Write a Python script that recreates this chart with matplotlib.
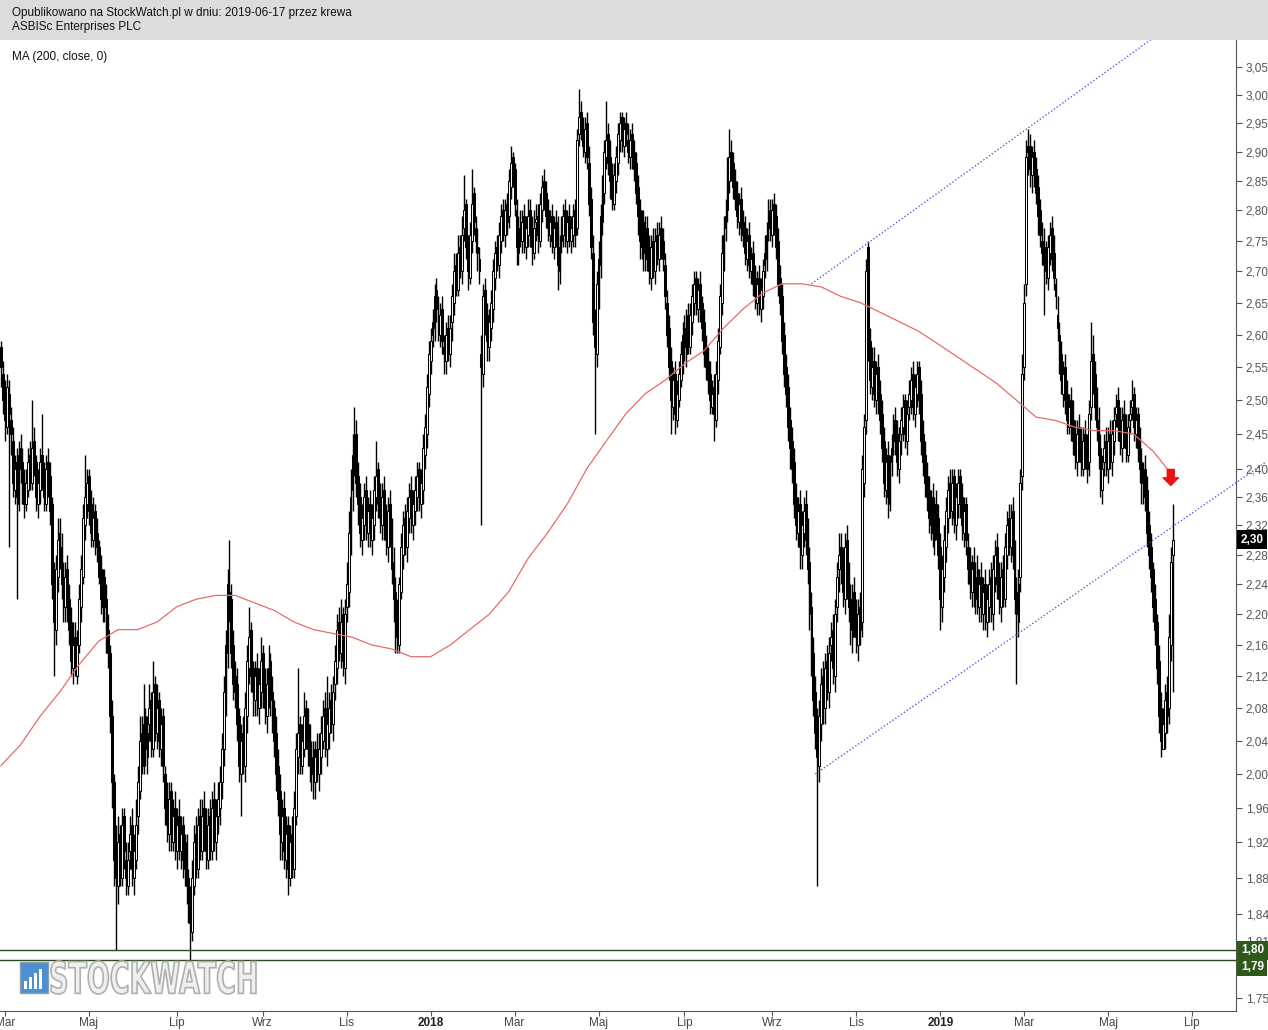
import matplotlib
matplotlib.use('Agg')
import matplotlib.pyplot as plt
from matplotlib.patches import Rectangle, PathPatch
from matplotlib.textpath import TextPath
from matplotlib.font_manager import FontProperties
from matplotlib.transforms import Affine2D, IdentityTransform
from matplotlib.ticker import NullLocator
import numpy as np
import pandas as pd

plt.rcParams['font.family'] = ['Liberation Sans', 'DejaVu Sans']

# daily sessions starting on this date (business days, no gaps)
start_date = '2017-02-27'

# prices in grosze (1/100 PLN), one row = 10 sessions
opens_gr = [
    258, 254, 251, 246, 251, 247, 244, 237, 241, 235,
    243, 241, 238, 235, 237, 242, 238, 244, 241, 235,
    237, 242, 240, 235, 241, 239, 235, 225, 218, 225,
    231, 229, 225, 221, 226, 222, 219, 213, 217, 212,
    216, 221, 225, 232, 235, 239, 235, 230, 234, 231,
    229, 226, 221, 225, 222, 218, 215, 207, 199, 190,
    187, 193, 188, 195, 190, 187, 191, 194, 188, 190,
    195, 198, 205, 201, 207, 202, 206, 209, 203, 211,
    205, 209, 203, 207, 200, 197, 193, 198, 192, 196,
    191, 195, 191, 194, 189, 192, 188, 186, 182, 187,
    193, 189, 195, 191, 196, 194, 190, 195, 191, 197,
    192, 195, 196, 199, 203, 209, 215, 223, 222, 216,
    212, 211, 207, 200, 205, 201, 207, 213, 218, 213,
    209, 213, 208, 210, 215, 211, 207, 210, 214, 210,
    208, 205, 201, 198, 192, 196, 190, 194, 188, 193,
    189, 195, 202, 206, 201, 203, 208, 206, 204, 200,
    203, 199, 203, 200, 202, 204, 208, 203, 205, 209,
    206, 211, 213, 219, 215, 220, 213, 221, 223, 230,
    237, 241, 245, 239, 236, 230, 232, 237, 231, 235,
    230, 232, 236, 240, 236, 232, 237, 233, 229, 235,
    232, 227, 223, 220, 216, 223, 228, 233, 229, 233,
    237, 232, 234, 236, 240, 235, 237, 242, 245, 251,
    256, 260, 261, 267, 263, 260, 264, 258, 256, 261,
    257, 262, 265, 271, 267, 274, 270, 277, 281, 274,
    269, 275, 283, 277, 274, 272, 257, 254, 267, 263,
    258, 261, 264, 269, 274, 271, 275, 280, 276, 281,
    279, 284, 289, 287, 280, 273, 278, 275, 279, 274,
    276, 280, 277, 273, 278, 279, 275, 280, 285, 283,
    280, 276, 279, 274, 278, 277, 270, 275, 276, 280,
    275, 279, 275, 276, 280, 277, 293, 297, 294, 290,
    295, 288, 282, 273, 263, 257, 267, 271, 278, 283,
    289, 293, 289, 286, 281, 285, 288, 292, 296, 291,
    295, 292, 289, 293, 290, 288, 284, 280, 274, 278,
    272, 277, 273, 269, 275, 270, 276, 272, 277, 275,
    271, 265, 261, 256, 249, 254, 247, 250, 253, 256,
    261, 257, 263, 258, 262, 265, 269, 264, 268, 265,
    262, 258, 256, 254, 249, 252, 247, 253, 258, 265,
    272, 277, 280, 285, 290, 288, 285, 283, 278, 282,
    278, 277, 272, 276, 270, 273, 269, 265, 269, 264,
    266, 271, 272, 277, 280, 276, 281, 279, 275, 269,
    266, 260, 255, 252, 247, 244, 241, 236, 231, 235,
    228, 231, 235, 231, 227, 221, 215, 210, 206, 201,
    206, 212, 208, 214, 210, 216, 218, 212, 221, 226,
    229, 227, 222, 230, 225, 222, 217, 223, 220, 216,
    221, 219, 238, 247, 274, 259, 252, 256, 250, 255,
    251, 248, 244, 237, 242, 235, 241, 244, 247, 245,
    240, 245, 246, 250, 244, 249, 250, 254, 248, 251,
    255, 251, 245, 242, 239, 237, 232, 236, 230, 235,
    233, 229, 221, 225, 229, 233, 238, 234, 239, 232,
    235, 239, 236, 231, 235, 229, 227, 223, 227, 222,
    226, 221, 225, 220, 224, 219, 221, 225, 220, 225,
    229, 225, 221, 226, 222, 228, 233, 229, 234, 228,
    223, 219, 225, 239, 255, 268, 291, 291, 286, 290,
    287, 284, 280, 275, 274, 272, 269, 273, 277, 273,
    268, 263, 260, 257, 251, 255, 251, 246, 250, 247,
    245, 241, 246, 244, 240, 245, 243, 241, 249, 257,
    254, 250, 247, 243, 237, 241, 244, 240, 245, 241,
    244, 248, 250, 247, 243, 248, 246, 242, 247, 249,
    251, 245, 248, 244, 241, 237, 240, 237, 232, 229,
    226, 222, 219, 214, 208, 203, 205, 210, 208, 216,
    228,
]
highs_gr = [
    259, 256, 253, 254, 253, 249, 246, 242, 243, 244,
    245, 243, 240, 240, 243, 244, 250, 246, 242, 240,
    243, 248, 241, 242, 243, 241, 236, 227, 228, 233,
    233, 231, 227, 227, 228, 224, 221, 219, 219, 218,
    224, 228, 235, 242, 240, 240, 237, 236, 235, 233,
    230, 228, 226, 226, 224, 220, 216, 209, 200, 194,
    195, 194, 196, 196, 192, 192, 195, 196, 193, 197,
    201, 207, 207, 211, 208, 207, 211, 210, 214, 212,
    211, 210, 208, 208, 201, 199, 199, 199, 197, 198,
    196, 197, 195, 195, 193, 193, 189, 187, 190, 194,
    195, 196, 197, 197, 198, 196, 196, 197, 198, 199,
    197, 199, 201, 205, 212, 218, 226, 230, 224, 218,
    214, 213, 208, 206, 207, 210, 216, 221, 219, 214,
    214, 215, 213, 217, 216, 213, 213, 216, 215, 212,
    209, 207, 203, 200, 197, 198, 195, 195, 194, 195,
    198, 205, 213, 207, 206, 210, 209, 208, 206, 204,
    204, 204, 205, 205, 207, 209, 210, 212, 210, 211,
    212, 216, 220, 221, 222, 221, 222, 227, 234, 240,
    245, 249, 247, 241, 238, 235, 238, 239, 236, 237,
    235, 239, 244, 241, 238, 238, 239, 235, 236, 237,
    233, 229, 225, 222, 225, 231, 234, 235, 236, 238,
    239, 237, 239, 241, 241, 240, 245, 248, 254, 259,
    261, 264, 268, 269, 266, 265, 266, 260, 262, 263,
    263, 268, 273, 273, 276, 276, 279, 286, 282, 276,
    278, 287, 284, 279, 277, 274, 260, 268, 269, 265,
    264, 267, 272, 275, 276, 278, 281, 282, 282, 283,
    287, 291, 290, 288, 282, 279, 280, 280, 281, 279,
    282, 282, 279, 280, 281, 281, 283, 286, 287, 285,
    282, 280, 281, 279, 280, 279, 276, 279, 281, 282,
    280, 281, 279, 281, 282, 294, 301, 299, 296, 296,
    297, 291, 284, 276, 264, 270, 275, 281, 286, 292,
    299, 295, 292, 288, 288, 291, 295, 297, 297, 296,
    297, 295, 294, 295, 292, 290, 286, 282, 280, 280,
    279, 279, 276, 276, 277, 277, 278, 278, 279, 277,
    273, 267, 263, 258, 255, 256, 253, 256, 259, 262,
    263, 264, 265, 265, 268, 270, 270, 269, 270, 266,
    264, 260, 258, 256, 253, 254, 256, 261, 268, 276,
    279, 282, 289, 294, 292, 290, 287, 285, 283, 284,
    280, 279, 277, 278, 274, 275, 271, 270, 271, 269,
    272, 276, 278, 282, 282, 282, 283, 281, 277, 271,
    268, 262, 257, 254, 249, 246, 243, 238, 236, 237,
    234, 236, 237, 233, 229, 223, 217, 212, 208, 209,
    213, 214, 215, 216, 217, 219, 220, 222, 227, 231,
    231, 229, 231, 232, 227, 224, 224, 225, 222, 222,
    223, 242, 248, 272, 275, 261, 258, 258, 256, 257,
    253, 250, 246, 243, 244, 242, 245, 248, 249, 247,
    246, 249, 251, 251, 250, 253, 255, 256, 254, 256,
    256, 253, 247, 244, 241, 239, 237, 238, 236, 237,
    235, 231, 228, 232, 236, 239, 240, 240, 240, 238,
    240, 240, 238, 236, 236, 231, 229, 228, 229, 227,
    228, 226, 227, 225, 226, 224, 226, 227, 228, 230,
    231, 227, 227, 228, 231, 234, 235, 235, 236, 230,
    225, 226, 240, 257, 268, 292, 294, 293, 291, 292,
    289, 286, 282, 278, 277, 275, 276, 278, 279, 276,
    269, 266, 262, 259, 256, 257, 253, 251, 252, 250,
    247, 247, 248, 246, 246, 247, 245, 250, 262, 260,
    256, 252, 249, 245, 242, 245, 246, 246, 247, 247,
    249, 251, 252, 249, 249, 250, 248, 248, 250, 253,
    252, 249, 249, 246, 243, 241, 242, 239, 234, 231,
    227, 224, 220, 216, 210, 208, 211, 212, 220, 229,
    235,
]
lows_gr = [
    252, 248, 244, 245, 229, 242, 236, 235, 222, 234,
    238, 235, 233, 234, 236, 237, 237, 239, 234, 233,
    235, 237, 234, 234, 236, 232, 222, 212, 216, 223,
    226, 222, 219, 219, 219, 216, 212, 211, 212, 211,
    215, 219, 224, 230, 233, 232, 229, 229, 228, 227,
    224, 220, 219, 219, 215, 213, 205, 196, 187, 180,
    185, 187, 187, 189, 186, 186, 189, 187, 186, 189,
    193, 197, 200, 200, 201, 200, 204, 202, 202, 204,
    203, 202, 201, 199, 194, 192, 191, 191, 191, 190,
    189, 190, 189, 188, 187, 185, 183, 179, 181, 186,
    188, 188, 190, 190, 191, 189, 189, 190, 190, 191,
    190, 193, 194, 197, 201, 207, 213, 219, 213, 209,
    208, 204, 199, 195, 200, 199, 205, 211, 210, 207,
    207, 207, 206, 208, 208, 206, 205, 208, 207, 205,
    202, 198, 195, 190, 190, 189, 188, 186, 187, 188,
    188, 194, 200, 200, 200, 202, 203, 201, 199, 198,
    197, 197, 199, 198, 200, 203, 202, 201, 203, 205,
    204, 209, 211, 214, 213, 212, 211, 219, 221, 228,
    234, 239, 236, 232, 229, 228, 230, 230, 229, 229,
    228, 230, 234, 233, 231, 230, 230, 228, 227, 229,
    224, 219, 215, 215, 215, 222, 226, 228, 227, 231,
    231, 230, 232, 234, 234, 233, 235, 240, 243, 249,
    254, 258, 259, 262, 259, 258, 257, 254, 254, 256,
    255, 259, 263, 266, 266, 269, 268, 275, 272, 267,
    268, 273, 276, 273, 270, 268, 232, 252, 260, 256,
    256, 259, 262, 267, 270, 269, 273, 275, 274, 276,
    277, 282, 284, 279, 271, 271, 274, 273, 273, 272,
    274, 274, 271, 272, 275, 273, 274, 278, 280, 277,
    275, 274, 273, 272, 274, 267, 268, 273, 274, 274,
    273, 274, 273, 274, 274, 276, 291, 292, 289, 288,
    287, 279, 272, 260, 245, 255, 264, 269, 276, 281,
    287, 286, 282, 280, 280, 283, 286, 290, 290, 289,
    291, 288, 287, 287, 285, 281, 276, 272, 272, 270,
    270, 270, 268, 267, 269, 268, 271, 270, 272, 270,
    264, 258, 253, 245, 247, 245, 246, 249, 252, 254,
    256, 255, 257, 257, 260, 263, 263, 262, 262, 259,
    255, 253, 251, 248, 248, 244, 246, 251, 257, 263,
    270, 275, 278, 283, 285, 282, 280, 277, 276, 275,
    274, 271, 270, 269, 268, 266, 264, 263, 263, 262,
    264, 269, 270, 275, 275, 274, 276, 272, 266, 263,
    257, 252, 249, 244, 240, 238, 233, 230, 229, 226,
    226, 229, 228, 224, 218, 212, 207, 203, 187, 199,
    204, 206, 206, 209, 208, 214, 211, 210, 219, 223,
    224, 221, 220, 222, 219, 216, 215, 217, 215, 214,
    216, 217, 236, 245, 256, 251, 250, 249, 248, 248,
    245, 241, 236, 235, 233, 234, 239, 242, 242, 239,
    238, 242, 244, 243, 242, 247, 248, 247, 246, 249,
    248, 242, 239, 236, 234, 231, 230, 229, 228, 230,
    226, 218, 219, 223, 227, 231, 233, 232, 231, 230,
    233, 233, 230, 229, 228, 224, 222, 221, 221, 220,
    220, 219, 219, 218, 218, 217, 219, 219, 218, 223,
    222, 220, 219, 221, 221, 226, 228, 227, 226, 220,
    211, 217, 223, 237, 253, 266, 286, 284, 283, 284,
    281, 276, 274, 271, 263, 268, 267, 271, 270, 267,
    264, 259, 254, 251, 249, 248, 245, 245, 244, 242,
    240, 239, 241, 239, 239, 240, 238, 239, 247, 251,
    247, 244, 240, 236, 235, 239, 239, 238, 240, 239,
    242, 246, 244, 242, 241, 243, 241, 241, 245, 247,
    244, 243, 241, 238, 235, 235, 234, 229, 226, 223,
    219, 216, 211, 205, 202, 203, 203, 205, 206, 214,
    210,
]
closes_gr = [
    255, 250, 247, 252, 248, 245, 238, 240, 236, 242,
    240, 237, 235, 238, 241, 239, 243, 240, 236, 238,
    241, 239, 236, 240, 238, 234, 224, 219, 226, 230,
    228, 224, 222, 225, 221, 218, 214, 216, 213, 216,
    222, 226, 233, 236, 238, 234, 231, 233, 230, 229,
    225, 222, 224, 221, 217, 215, 207, 199, 190, 188,
    192, 189, 194, 191, 188, 190, 193, 189, 191, 194,
    199, 204, 202, 206, 203, 205, 208, 204, 210, 206,
    208, 204, 206, 201, 196, 194, 197, 193, 195, 192,
    194, 192, 193, 190, 191, 187, 185, 183, 188, 192,
    190, 194, 192, 195, 193, 191, 194, 192, 196, 193,
    195, 197, 199, 203, 210, 216, 224, 222, 215, 211,
    210, 206, 201, 204, 202, 208, 214, 217, 212, 210,
    212, 209, 211, 214, 210, 208, 211, 213, 209, 207,
    204, 200, 197, 193, 195, 191, 193, 189, 192, 190,
    196, 203, 205, 202, 204, 207, 205, 203, 201, 202,
    200, 202, 201, 203, 205, 207, 204, 206, 208, 207,
    210, 214, 218, 216, 219, 214, 220, 224, 231, 236,
    242, 244, 238, 235, 231, 233, 236, 232, 234, 231,
    233, 237, 239, 235, 233, 236, 232, 230, 234, 231,
    226, 222, 219, 217, 224, 229, 232, 230, 234, 236,
    233, 235, 237, 239, 236, 238, 243, 246, 252, 257,
    259, 262, 266, 264, 261, 263, 259, 257, 260, 258,
    261, 266, 270, 268, 273, 271, 276, 280, 274, 270,
    276, 281, 278, 275, 273, 270, 255, 266, 262, 259,
    262, 265, 270, 273, 272, 276, 279, 277, 280, 278,
    285, 288, 286, 281, 274, 277, 276, 278, 275, 277,
    279, 276, 274, 277, 278, 276, 281, 284, 282, 279,
    277, 278, 275, 277, 276, 271, 274, 277, 279, 276,
    278, 276, 277, 279, 276, 292, 296, 293, 291, 294,
    289, 281, 274, 262, 258, 268, 272, 279, 284, 290,
    292, 288, 285, 282, 286, 289, 293, 295, 292, 294,
    293, 290, 292, 289, 287, 283, 279, 275, 277, 273,
    276, 272, 270, 274, 271, 275, 273, 276, 274, 272,
    266, 260, 255, 250, 253, 248, 251, 254, 257, 260,
    258, 262, 259, 263, 266, 268, 265, 267, 264, 261,
    257, 255, 253, 250, 251, 248, 254, 259, 266, 273,
    276, 279, 286, 289, 287, 284, 282, 279, 281, 277,
    276, 273, 275, 271, 272, 268, 266, 268, 265, 267,
    270, 273, 276, 279, 277, 280, 278, 274, 268, 265,
    259, 254, 251, 246, 243, 240, 235, 232, 234, 229,
    232, 234, 230, 226, 220, 214, 209, 205, 202, 207,
    211, 209, 213, 211, 215, 217, 213, 220, 225, 228,
    226, 223, 229, 224, 221, 218, 222, 219, 217, 220,
    218, 240, 246, 270, 258, 253, 255, 251, 254, 250,
    247, 243, 238, 241, 236, 240, 243, 246, 244, 241,
    244, 247, 249, 245, 248, 251, 253, 249, 252, 254,
    250, 244, 241, 238, 236, 233, 235, 231, 234, 232,
    228, 222, 226, 230, 234, 237, 235, 238, 233, 236,
    238, 235, 232, 234, 230, 226, 224, 226, 223, 225,
    222, 224, 221, 223, 220, 222, 224, 221, 226, 228,
    224, 222, 225, 223, 229, 232, 230, 233, 228, 222,
    220, 224, 238, 254, 265, 289, 290, 287, 289, 286,
    283, 279, 276, 273, 271, 270, 274, 276, 272, 269,
    266, 261, 256, 253, 254, 250, 247, 249, 246, 244,
    242, 245, 243, 241, 244, 242, 240, 248, 256, 253,
    249, 246, 242, 238, 240, 243, 241, 244, 242, 245,
    247, 249, 246, 244, 247, 245, 243, 246, 248, 250,
    246, 247, 243, 240, 238, 239, 236, 231, 228, 225,
    221, 218, 213, 207, 204, 206, 209, 207, 217, 227,
    230,
]

# MA(200, close) read every 10 sessions
ma_step = 10
ma200 = [
    2.010, 2.035, 2.070, 2.100, 2.135, 2.165, 2.180, 2.180, 2.190, 2.210,
    2.220, 2.225, 2.225, 2.215, 2.205, 2.190, 2.180, 2.175, 2.170, 2.160,
    2.155, 2.145, 2.145, 2.160, 2.180, 2.200, 2.230, 2.275, 2.310, 2.350,
    2.400, 2.440, 2.480, 2.510, 2.530, 2.555, 2.575, 2.610, 2.640, 2.665,
    2.680, 2.680, 2.675, 2.660, 2.650, 2.635, 2.620, 2.605, 2.585, 2.565,
    2.545, 2.525, 2.500, 2.475, 2.470, 2.460, 2.455, 2.455, 2.450, 2.425,
    2.390,
]

# trend channel (session index, price)
upper_channel = [(415, 2.68), (600, 3.13)]
lower_channel = [(417, 2.00), (648, 2.41)]

support_levels = [1.80, 1.79]
support_label_y = [1.80, 1.7823]
last_close = 2.30
arrow_at = (599, 2.372)

y_ticks = [1.75, 1.81, 1.84, 1.88, 1.92, 1.96, 2.00, 2.04, 2.08, 2.12, 2.16,
           2.20, 2.24, 2.28, 2.32, 2.36, 2.40, 2.45, 2.50, 2.55, 2.60, 2.65,
           2.70, 2.75, 2.80, 2.85, 2.90, 2.95, 3.00, 3.05]
tick_months = ['2017-03-01', '2017-05-01', '2017-07-01', '2017-09-01',
               '2017-11-01', '2018-01-01', '2018-03-01', '2018-05-01',
               '2018-07-01', '2018-09-01', '2018-11-01', '2019-01-01',
               '2019-03-01', '2019-05-01', '2019-07-01']
tick_labels = ['Mar', 'Maj', 'Lip', 'Wrz', 'Lis', '2018', 'Mar', 'Maj', 'Lip',
               'Wrz', 'Lis', '2019', 'Mar', 'Maj', 'Lip']

W, H = 1268, 1030
fig = plt.figure(figsize=(W / 100, H / 100), dpi=100)
fig.patch.set_facecolor('white')

# header band
fig.add_artist(Rectangle((0, 1 - 40 / H), 1, 40 / H, transform=fig.transFigure,
                         facecolor='#dcdcdc', edgecolor='none', zorder=0))
fig.text(12 / W, 1 - 13 / H, 'Opublikowano na StockWatch.pl w dniu: 2019-06-17 przez krewa',
         fontsize=8.5, va='center', ha='left', color='#111111')
fig.text(12 / W, 1 - 27 / H, 'ASBISc Enterprises PLC',
         fontsize=8.5, va='center', ha='left', color='#111111')
fig.text(12 / W, 1 - 57 / H, 'MA (200, close, 0)',
         fontsize=8.5, va='center', ha='left', color='#111111')

ax = fig.add_axes([0, 19 / H, 1236 / W, 971 / H])
ax.set_yscale('log')
ax.set_ylim(1.736, 3.10)
ax.set_xlim(-0.5, 632.4)

n = min(len(opens_gr), len(highs_gr), len(lows_gr), len(closes_gr))
x = np.arange(n)
o = np.array(opens_gr[:n]) / 100
h = np.array(highs_gr[:n]) / 100
l = np.array(lows_gr[:n]) / 100
c = np.array(closes_gr[:n]) / 100
hi = np.maximum.reduce([h, o, c])
lo = np.minimum.reduce([l, o, c])

ax.vlines(x, lo, hi, color='black', linewidth=1.0, zorder=3)
up = c >= o
body_lo = np.minimum(o, c)
body_h = np.maximum(np.abs(c - o), 0.005)
ax.bar(x[up], body_h[up], bottom=body_lo[up], width=0.95, color='white',
       edgecolor='black', linewidth=0.75, zorder=4)
ax.bar(x[~up], body_h[~up], bottom=body_lo[~up], width=0.95, color='black',
       edgecolor='black', linewidth=0.75, zorder=4)

# moving average
ma_x = np.arange(len(ma200)) * ma_step
ax.plot(ma_x, ma200, color='#e86a6a', linewidth=0.9, zorder=5)

# channel lines: the upper one stops at the top of the plot, the lower one runs past the axis
ax.plot([p[0] for p in upper_channel], [p[1] for p in upper_channel], color='#5a5ae0',
        linestyle=(0, (1, 1.5)), linewidth=1.0, zorder=5)
ax.plot([p[0] for p in lower_channel], [p[1] for p in lower_channel], color='#5a5ae0',
        linestyle=(0, (1, 1.5)), linewidth=1.0, zorder=5, clip_on=False)

for lev in support_levels:
    ax.axhline(lev, color='#2e4a1e', linewidth=1.0, zorder=5)

ax.annotate('', xy=arrow_at, xytext=(arrow_at[0], arrow_at[1] * 1.013),
            arrowprops=dict(arrowstyle='simple,head_length=0.55,head_width=1.1,tail_width=0.5',
                            fc='#ee1111', ec='#ee1111'), zorder=6)

# axes styling
for side in ('left', 'top'):
    ax.spines[side].set_visible(False)
for side in ('right', 'bottom'):
    ax.spines[side].set_color('#555555')
ax.yaxis.tick_right()
ax.yaxis.set_minor_locator(NullLocator())
ax.set_yticks(y_ticks)
ax.set_yticklabels([f'{v:.2f}'.replace('.', ',') for v in y_ticks])
ax.tick_params(axis='y', direction='out', length=4, color='#555555',
               labelcolor='#555555', labelsize=8.5, pad=3)

all_days = pd.bdate_range(start_date, '2019-07-31')
tick_pos = [all_days.searchsorted(pd.Timestamp(m)) for m in tick_months]
ax.set_xticks(tick_pos)
ax.set_xticklabels(tick_labels)
ax.tick_params(axis='x', direction='out', length=3.5, color='#555555',
               labelcolor='#444444', labelsize=8.5, pad=0.5)
for lbl in ax.get_xticklabels():
    if lbl.get_text().isdigit():
        lbl.set_fontweight('bold')
        lbl.set_color('#222222')

# value boxes on the price axis
ytr = ax.get_yaxis_transform()
ax.text(1.004, last_close, f'{last_close:.2f}'.replace('.', ','), transform=ytr,
        ha='left', va='center', fontsize=8.5, fontweight='bold', color='white',
        bbox=dict(boxstyle='square,pad=0.3', fc='black', ec='none'), clip_on=False, zorder=10)
for lev, ly in zip(support_levels, support_label_y):
    ax.text(1.004, ly, f'{lev:.2f}'.replace('.', ','), transform=ytr,
            ha='left', va='center', fontsize=8.5, fontweight='bold', color='white',
            bbox=dict(boxstyle='square,pad=0.3', fc='#2d5a1b', ec='none'), clip_on=False, zorder=10)

# watermark (pixel coordinates, origin bottom-left)
fig.add_artist(Rectangle((20 / W, 1 - 993 / H), 28 / W, 31 / H, transform=fig.transFigure,
                         facecolor='#4f8fcf', edgecolor='#8aa0b0', linewidth=1, zorder=6))
for k, bh in enumerate([8, 12, 16, 20]):
    fig.add_artist(Rectangle(((24 + 5 * k) / W, 1 - 989 / H), 3 / W, bh / H,
                             transform=fig.transFigure, facecolor='white',
                             edgecolor='none', zorder=7))
tp = TextPath((0, 0), 'STOCKWATCH', size=40,
              prop=FontProperties(family='DejaVu Sans', weight='bold'))
bb = tp.get_extents()
sx = 205 / bb.width
sy = 33 / bb.height
wm_tr = Affine2D().translate(-bb.x0, -bb.y0).scale(sx, sy).translate(51, H - 994)
wm = PathPatch(wm_tr.transform_path(tp), facecolor='#efefef', edgecolor='#b0b0b0',
               linewidth=1.2, transform=IdentityTransform(), zorder=6)
fig.add_artist(wm)

fig.savefig('out.png', dpi=100)
